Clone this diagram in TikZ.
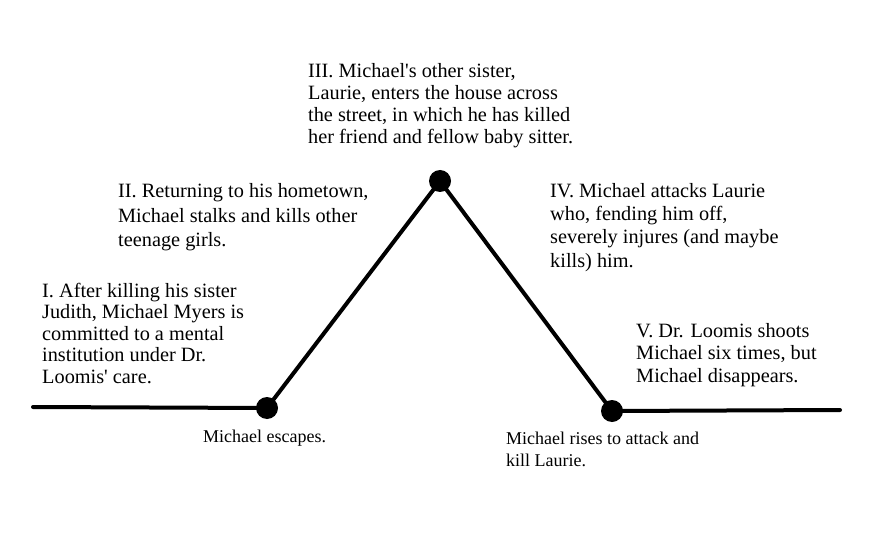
\documentclass[tikz,border=0pt]{standalone}
\usepackage{fontspec}
\setmainfont{Liberation Serif}
\newcommand{\fs}[2]{\fontsize{#1}{#2}\selectfont\lineskiplimit=-100pt\lineskip=0pt\relax}
\begin{document}
\begin{tikzpicture}[x=1pt,y=-1pt,
  plotline/.style={line width=4pt,line cap=round,line join=round},
  dotnode/.style={circle,fill=black,minimum size=22pt,inner sep=0pt},
  txt/.style={anchor=base west,inner sep=0pt},
  small/.style={txt,font=\fs{18}{22}}]
\useasboundingbox (0,0) rectangle (877,545);
\coordinate (L) at (33,407);
\coordinate (R) at (840,410);
\node[dotnode] (A) at (267,408) {};
\node[dotnode] (B) at (440,181) {};
\node[dotnode] (C) at (612,411) {};
\draw[plotline] (L) -- (A.center) -- (B.center) -- (C.center) -- (R);
% each node is a vbox whose baseline is the baseline of its last line
\node[txt,font=\fs{20.3}{21.5}] (t1) at (42,383) {\vbox{\hbox{I. After killing his sister}\hbox{Judith, Michael Myers is}\hbox{committed to a mental}\hbox{institution under Dr.}\hbox{Loomis\textquotesingle{} care.}}};
\node[txt,font=\fs{20.3}{24.5}] (t2) at (118,247) {\vbox{\hbox{II. Returning to his hometown,}\hbox{Michael stalks and kills other}\hbox{teenage girls.}}};
\node[txt,font=\fs{20.3}{22.3}] (t3) at (308,144) {\vbox{\hbox{III. Michael\textquotesingle{}s other sister,}\hbox{Laurie, enters the house across}\hbox{the street, in which he has killed}\hbox{her friend and fellow baby sitter.}}};
\node[txt,font=\fs{20.3}{23.3}] (t4) at (550,267) {\vbox{\hbox{IV. Michael attacks Laurie}\hbox{who, fending him off,}\hbox{severely injures (and maybe}\hbox{kills) him.}}};
\node[txt,font=\fs{20.3}{22.5}] (t5) at (636,382) {\vbox{\hbox{V. Dr. Loomis shoots}\hbox{Michael six times, but}\hbox{Michael disappears.}}};
\node[small] (s1) at (203,442) {Michael escapes.};
\node[small] (s2) at (506,466) {\vbox{\hbox{Michael rises to attack and}\hbox{kill Laurie.}}};
\end{tikzpicture}
\end{document}
